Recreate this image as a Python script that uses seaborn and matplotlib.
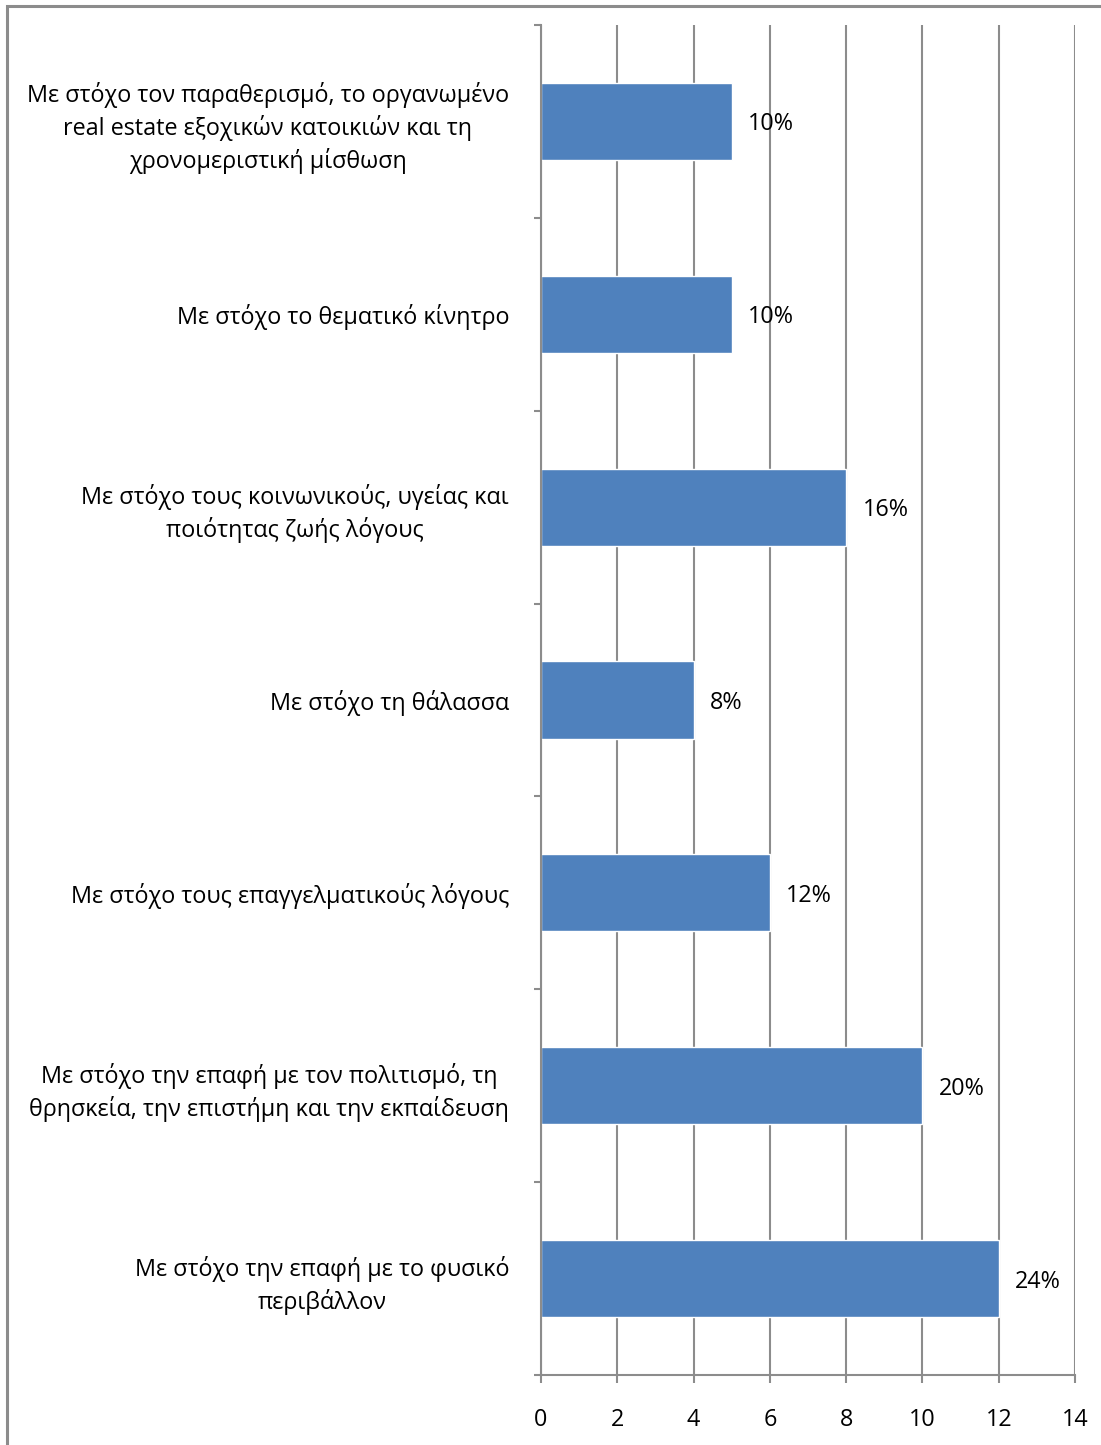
import matplotlib
matplotlib.use("Agg")
import matplotlib.pyplot as plt
import matplotlib.patches as mpatches
import seaborn as sns
import pandas as pd
import numpy as np

# Reasons for travel and number of responses for each
categories = [
    "Με στόχο τον παραθερισμό, το οργανωμένο\nreal estate εξοχικών κατοικιών και τη\nχρονομεριστική μίσθωση",
    "Με στόχο το θεματικό κίνητρο",
    "Με στόχο τους κοινωνικούς, υγείας και\nποιότητας ζωής λόγους",
    "Με στόχο τη θάλασσα",
    "Με στόχο τους επαγγελματικούς λόγους",
    "Με στόχο την επαφή με τον πολιτισμό, τη\nθρησκεία, την επιστήμη και την εκπαίδευση",
    "Με στόχο την επαφή με το φυσικό\nπεριβάλλον",
]
counts = [5, 5, 8, 4, 6, 10, 12]
x_ticks = [0, 2, 4, 6, 8, 10, 12, 14]

df = pd.DataFrame({"reason": categories, "count": counts})
total = sum(counts)

sns.set_theme(style="white")
plt.rcParams["font.family"] = ["Open Sans", "DejaVu Sans"]

GRID = "#8c8c8c"
BAR = "#4f81bd"
FS = 16.8

fig = plt.figure(figsize=(11.01, 14.45), dpi=100)
ax = fig.add_axes([541 / 1101, 1 - 1375 / 1445, 534 / 1101, 1350 / 1445])

sns.barplot(data=df, x="count", y="reason", order=categories, orient="h",
            color=BAR, saturation=1, width=0.4, ax=ax)

ax.set_xlim(0, 14)
ax.set_ylim(len(categories) - 0.5, -0.5)
ax.set_xticks(x_ticks)
ax.set_xticklabels([str(t) for t in x_ticks])
ax.set_xlabel("")
ax.set_ylabel("")

# vertical gridlines behind the bars
ax.set_axisbelow(True)
ax.xaxis.grid(True, color=GRID, linewidth=1.5)
ax.yaxis.grid(False)

for side in ("top", "right"):
    ax.spines[side].set_visible(False)
for side in ("left", "bottom"):
    ax.spines[side].set_color(GRID)
    ax.spines[side].set_linewidth(1.5)

# category labels on the y axis, tick marks at category boundaries
ax.set_yticks(range(len(categories)))
ax.set_yticklabels(categories, multialignment="center", linespacing=1.36)
ax.tick_params(axis="y", which="major", length=0, pad=23, labelsize=FS,
               labelcolor="black")
ax.set_yticks(np.arange(-0.5, len(categories), 1.0), minor=True)
ax.tick_params(axis="y", which="minor", left=True, length=5, width=1.5,
               color=GRID, direction="out")
ax.tick_params(axis="x", bottom=True, length=6, width=1.5, color=GRID,
               direction="out", pad=18, labelsize=FS, labelcolor="black")

# value labels as share of all responses
for i, v in enumerate(counts):
    ax.text(v + 0.43, i, f"{v / total * 100:.0f}%", va="center_baseline",
            ha="left", fontsize=FS, color="black")

# outer frame of the chart area
fig.patches.append(mpatches.Rectangle((7 / 1101, -0.1), 1.2, 1.1 - 6 / 1445,
                                      transform=fig.transFigure, fill=False,
                                      edgecolor=GRID, linewidth=2.2))

fig.savefig("out.png", dpi=100)
